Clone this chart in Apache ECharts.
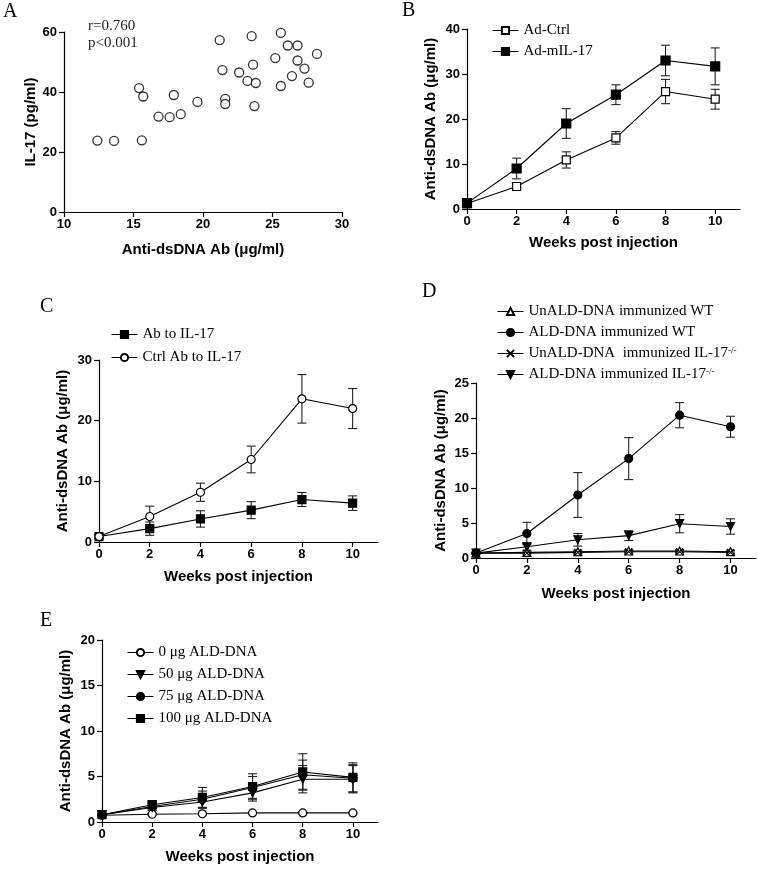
<!DOCTYPE html>
<html><head><meta charset="utf-8">
<script src="https://cdn.jsdelivr.net/npm/echarts@6/dist/echarts.min.js"></script>
<style>html,body{margin:0;padding:0;background:#fff}#c{width:759px;height:869px}</style>
</head><body><div id="c"></div><script>
// ---------- data ----------
const corrX = [12.4,13.6,15.6,15.4,15.7,16.8,17.6,17.9,18.4,19.6,21.2,21.4,21.6,21.6,22.6,23.2,23.5,23.6,23.8,23.7,25.2,25.6,25.6,26.1,26.8,26.8,26.4,27.3,27.6,28.2];
const corrY = [23.8,23.7,23.9,41.3,38.5,31.8,31.6,39.0,32.6,36.7,57.3,47.3,37.7,36.0,46.5,43.7,58.6,49.1,43.0,35.3,51.3,59.7,42.0,55.5,55.5,50.5,45.3,47.8,43.1,52.7];
const weeks = [0,2,4,6,8,10];
const weekTicks = [0,2,4,6,8,10];
const bCtrl = [1.2,5.0,10.9,15.8,26.1,24.4];
const bCtrlErr = [0.3,0.5,1.8,1.4,2.7,2.2];
const bIL17 = [1.3,9.0,19.0,25.4,33.0,31.7];
const bIL17Err = [0.3,2.3,3.3,2.2,3.4,4.1];
const cAb = [0.9,2.2,3.8,5.25,7.0,6.4];
const cAbErr = [0.3,1.1,1.35,1.4,1.15,1.2];
const cCtrl = [0.9,4.2,8.2,13.6,23.6,22.0];
const cCtrlErr = [0.3,1.7,1.5,2.2,4.0,3.3];
const dUnWT = [0.7,0.8,0.9,1.0,1.0,0.9];
const dUnWTErr = [0.1,0.2,0.2,0.2,0.2,0.2];
const dWT = [0.7,3.5,9.0,14.2,20.4,18.75];
const dWTErr = [0.1,1.6,3.2,3.0,1.8,1.5];
const dUnKO = [0.7,0.7,0.8,0.9,0.9,0.8];
const dUnKOErr = [0.1,0.1,0.2,0.2,0.2,0.2];
const dKO = [0.7,1.6,2.6,3.2,4.9,4.5];
const dKOErr = [0.1,0.5,0.9,0.7,1.3,1.1];
const e0 = [0.75,0.85,0.9,1.0,1.0,1.0];
const e0Err = [0.05,0.1,0.1,0.1,0.1,0.1];
const e50 = [0.8,1.6,2.2,3.2,4.7,4.7];
const e50Err = [0.1,0.3,0.7,0.9,1.5,1.5];
const e75 = [0.8,1.7,2.5,3.8,5.2,4.8];
const e75Err = [0.1,0.4,0.9,1.2,1.6,1.5];
const e100 = [0.8,1.9,2.7,3.9,5.5,4.9];
const e100Err = [0.1,0.4,1.1,1.4,2.0,1.6];

const namesB = ['Ad-Ctrl','Ad-mIL-17'];
const namesC = ['Ab to IL-17','Ctrl Ab to IL-17'];
const namesD = ['UnALD-DNA immunized WT','ALD-DNA immunized WT','UnALD-DNA  immunized IL-17-/-','ALD-DNA immunized IL-17-/-'];
const namesE = ['0 μg ALD-DNA','50 μg ALD-DNA','75 μg ALD-DNA','100 μg ALD-DNA'];

// ---------- styling ----------
const SANS = '"Liberation Sans", Arial, sans-serif';
const SERIF = '"Liberation Serif", "Times New Roman", serif';
const TRI_DOWN = 'path://M0,0L10,0L5,8.66Z';
const CROSS = 'path://M0,0L10,10M10,0L0,10';

const grids = [
  {left:64, top:32, width:278, height:180},
  {left:467, top:29, width:273, height:180},
  {left:99, top:360, width:279, height:182},
  {left:476, top:383, width:280, height:175},
  {left:102, top:640, width:276, height:182}
];

function axisBase(isX){
  return {
    type:'value',
    axisLine:{show:true, onZero:false, lineStyle:{color:'#000', width:1.2}},
    axisTick:{show:true, length:5, lineStyle:{color:'#000', width:1.2}},
    splitLine:{show:false},
    axisLabel:{color:'#000', fontFamily:SANS, fontWeight:'bold', fontSize:13, margin: isX ? 6 : 7},
    nameLocation:'middle',
    nameTextStyle:{color:'#000', fontFamily:SANS, fontWeight:'bold', fontSize:15}
  };
}
function xWeeks(gi, gap){
  const a = axisBase(true);
  return Object.assign(a, {gridIndex:gi, min:0, max:11, interval:2, name:'Weeks post injection', nameGap:gap,
    axisLabel:Object.assign(a.axisLabel, {customValues:weekTicks}),
    axisTick:Object.assign(a.axisTick, {customValues:weekTicks})});
}
function yAb(gi, max, step, gap){
  const a = axisBase(false);
  return Object.assign(a, {gridIndex:gi, min:0, max:max, interval:step, name:'Anti-dsDNA Ab (μg/ml)', nameGap:gap});
}

const xAxes = [
  Object.assign(axisBase(true), {gridIndex:0, min:10, max:30, interval:5, name:'Anti-dsDNA Ab (μg/ml)', nameGap:30}),
  xWeeks(1, 26), xWeeks(2, 27), xWeeks(3, 28), xWeeks(4, 27)
];
const yAxes = [
  Object.assign(axisBase(false), {gridIndex:0, min:0, max:60, interval:20, name:'IL-17 (pg/ml)', nameGap:26}),
  yAb(1, 40, 10, 29), yAb(2, 30, 10, 29), yAb(3, 25, 5, 28), yAb(4, 20, 5, 29)
];

function lineS(name, gi, ys, symbol, filled, size){
  return {
    name:name, type:'line', xAxisIndex:gi, yAxisIndex:gi, z:3,
    data:weeks.map((w,i)=>[w, ys[i]]),
    symbol:symbol, symbolSize:size, showSymbol:true,
    lineStyle:{color:'#000', width:1.1},
    itemStyle:{color: filled ? '#000' : '#fff', borderColor:'#000', borderWidth:1.2},
    emphasis:{disabled:true}, animation:false
  };
}
function errS(gi, ys, es){
  return {
    type:'custom', xAxisIndex:gi, yAxisIndex:gi, z:2, animation:false, silent:true,
    data:weeks.map((w,i)=>[w, ys[i], es[i]]),
    encode:{x:0, y:1},
    renderItem:function(params, api){
      const x = api.value(0), y = api.value(1), e = api.value(2);
      const t = api.coord([x, y+e]), b = api.coord([x, y-e]);
      const cw = 4.5;
      const st = {stroke:'#222', lineWidth:1.1};
      return {type:'group', children:[
        {type:'line', shape:{x1:t[0], y1:t[1], x2:b[0], y2:b[1]}, style:st},
        {type:'line', shape:{x1:t[0]-cw, y1:t[1], x2:t[0]+cw, y2:t[1]}, style:st},
        {type:'line', shape:{x1:b[0]-cw, y1:b[1], x2:b[0]+cw, y2:b[1]}, style:st}
      ]};
    }
  };
}

const series = [
  {name:'corr', type:'scatter', xAxisIndex:0, yAxisIndex:0, data:corrX.map((x,i)=>[x, corrY[i]]),
   symbol:'circle', symbolSize:9, itemStyle:{color:'#fff', borderColor:'#000', borderWidth:1.3}, animation:false},
  errS(1, bCtrl, bCtrlErr), errS(1, bIL17, bIL17Err),
  lineS(namesB[0], 1, bCtrl, 'rect', false, 8),
  lineS(namesB[1], 1, bIL17, 'rect', true, 9),
  errS(2, cAb, cAbErr), errS(2, cCtrl, cCtrlErr),
  lineS(namesC[0], 2, cAb, 'rect', true, 8),
  lineS(namesC[1], 2, cCtrl, 'circle', false, 8),
  errS(3, dUnWT, dUnWTErr), errS(3, dWT, dWTErr), errS(3, dUnKO, dUnKOErr), errS(3, dKO, dKOErr),
  lineS(namesD[0], 3, dUnWT, 'triangle', false, 8),
  lineS(namesD[1], 3, dWT, 'circle', true, 8),
  lineS(namesD[2], 3, dUnKO, CROSS, true, 7),
  lineS(namesD[3], 3, dKO, TRI_DOWN, true, 8),
  errS(4, e0, e0Err), errS(4, e50, e50Err), errS(4, e75, e75Err), errS(4, e100, e100Err),
  lineS(namesE[0], 4, e0, 'circle', false, 8),
  lineS(namesE[1], 4, e50, TRI_DOWN, true, 8),
  lineS(namesE[2], 4, e75, 'circle', true, 8),
  lineS(namesE[3], 4, e100, 'rect', true, 8)
];

function legend(names, left, top, gap, width){
  return {
    data:names, orient:'vertical', left:left, top:top, padding:0, itemGap:gap,
    itemWidth:width, itemHeight:9, selectedMode:false,
    lineStyle:{width:1, color:'#000'},
    textStyle:{color:'#000', fontFamily:SERIF, fontSize:15, lineHeight:14,
      rich:{sup:{fontFamily:SERIF, fontSize:9, verticalAlign:'top', lineHeight:14, color:'#000'}}},
    formatter:function(n){ return n.endsWith('-/-') ? n.slice(0,-3) + '{sup|-/-}' : n; }
  };
}

function label(txt, x, y){
  return {type:'text', left:x, top:y, style:{text:txt, fontFamily:SERIF, fontSize:20, fill:'#000'}};
}

const option = {
  backgroundColor:'#fff',
  animation:false,
  grid:grids,
  xAxis:xAxes,
  yAxis:yAxes,
  legend:[
    legend(namesB, 492, 23, 6, 26),
    legend(namesC, 111, 327, 8, 26),
    legend(namesD, 497, 304, 6, 26),
    legend(namesE, 127, 645, 7, 26)
  ],
  graphic:[
    label('A', 3, 2), label('B', 402, 1), label('C', 40, 297), label('D', 422, 282), label('E', 40, 611),
    {type:'text', left:88, top:18, style:{text:'r=0.760\np<0.001', fontFamily:SERIF, fontSize:15, lineHeight:17, fill:'#222'}}
  ],
  series:series
};
const chart = echarts.init(document.getElementById('c'), null, {renderer:'canvas'});
chart.setOption(option);
</script></body></html>
